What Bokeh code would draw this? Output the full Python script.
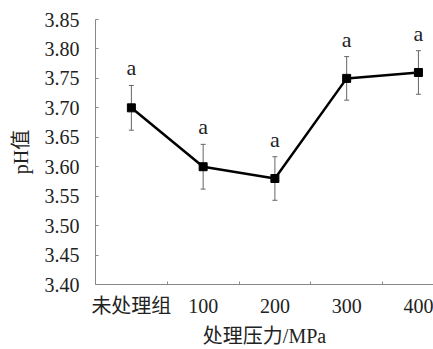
from bokeh.plotting import figure
from bokeh.models import FixedTicker, ColumnDataSource, Whisker, TeeHead, PrintfTickFormatter
from bokeh.core.properties import value
from bokeh.embed import file_html
from bokeh.resources import INLINE

categories = ["未处理组", "100", "200", "300", "400"]
ph_values = [3.70, 3.60, 3.58, 3.75, 3.76]
ph_errors = [0.038, 0.038, 0.037, 0.037, 0.037]
sig_letters = ["a", "a", "a", "a", "a"]
y_ticks = [3.40, 3.45, 3.50, 3.55, 3.60, 3.65, 3.70, 3.75, 3.80, 3.85]

xs = list(range(len(categories)))
src = ColumnDataSource(dict(
    x=xs, y=ph_values,
    upper=[v + e for v, e in zip(ph_values, ph_errors)],
    lower=[v - e for v, e in zip(ph_values, ph_errors)],
    lab=sig_letters,
))

serif = "'Liberation Serif'"
mixed = "'Liberation Serif', 'Noto Sans CJK SC'"

p = figure(width=433, height=349, output_backend="svg", toolbar_location=None,
           x_range=(-0.5, 4.21), y_range=(3.40, 3.85),
           min_border_left=95, min_border_top=19, min_border_bottom=64, min_border_right=0)
p.outline_line_color = None
p.xgrid.visible = False
p.ygrid.visible = False
p.background_fill_color = "white"

# error bars
wh = Whisker(source=src, base="x", upper="upper", lower="lower",
             line_color="#666666", line_width=1,
             upper_head=TeeHead(size=5, line_color="#666666", line_width=1),
             lower_head=TeeHead(size=5, line_color="#666666", line_width=1))
p.add_layout(wh)

p.line("x", "y", source=src, line_color="black", line_width=2.5)
p.scatter("x", "y", source=src, marker="square", size=8, color="black")
p.text("x", "upper", text="lab", source=src, text_align="center", text_baseline="bottom",
       y_offset=-5, text_font=value("Liberation Serif"), text_font_size="22px",
       text_color="#222222")

# x axis
xa = p.xaxis[0]
xa.ticker = FixedTicker(ticks=xs, minor_ticks=[0.5, 1.5, 2.5, 3.5])
xa.major_label_overrides = {i: c for i, c in enumerate(categories)}
xa.major_tick_in = 0
xa.major_tick_out = 0
xa.minor_tick_in = 3
xa.minor_tick_out = 0
xa.minor_tick_line_color = "#888888"
xa.axis_line_color = "#888888"
xa.major_label_text_font = mixed
xa.major_label_text_font_size = "20px"
xa.major_label_text_color = "#222222"
xa.major_label_standoff = 10
xa.axis_label = "处理压力/MPa"
xa.axis_label_text_font = mixed
xa.axis_label_text_font_size = "20px"
xa.axis_label_text_font_style = "normal"
xa.axis_label_text_color = "#222222"
xa.axis_label_standoff = 5

# y axis
ya = p.yaxis[0]
ya.ticker = FixedTicker(ticks=y_ticks, minor_ticks=[])
ya.formatter = PrintfTickFormatter(format="%.2f")
ya.major_tick_in = 3
ya.major_tick_out = 0
ya.major_tick_line_color = "#888888"
ya.axis_line_color = "#888888"
ya.major_label_text_font = serif
ya.major_label_text_font_size = "20px"
ya.major_label_text_color = "#222222"
ya.major_label_standoff = 16
ya.axis_label = "pH值"
ya.axis_label_text_font = mixed
ya.axis_label_text_font_size = "20px"
ya.axis_label_text_font_style = "normal"
ya.axis_label_text_color = "#222222"
ya.axis_label_standoff = 10

open("out.html", "w").write(file_html(p, INLINE))
